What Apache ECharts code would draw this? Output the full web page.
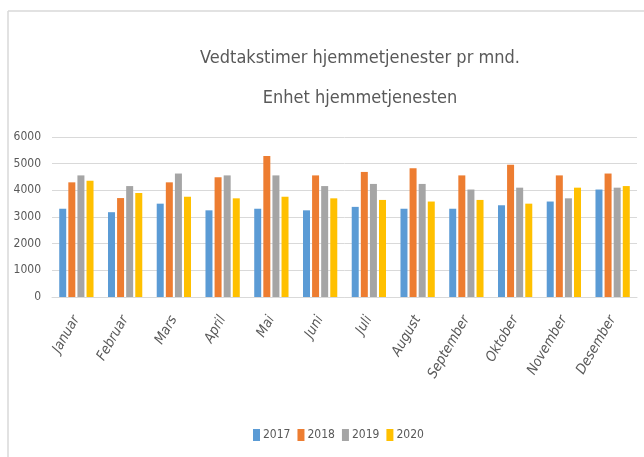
<!DOCTYPE html>
<html>
<head>
<meta charset="utf-8">
<script src="https://cdn.jsdelivr.net/npm/echarts@6/dist/echarts.min.js"></script>
<style>
  html, body { margin: 0; padding: 0; background: #fff; }
  #myChart { width: 644px; height: 457px; }
</style>
</head>
<body>
<div id="myChart"></div>
<script>
// data
var months = ['Januar', 'Februar', 'Mars', 'April', 'Mai', 'Juni', 'Juli', 'August', 'September', 'Oktober', 'November', 'Desember'];
var years = ['2017', '2018', '2019', '2020'];
var v2017 = [3310, 3180, 3500, 3250, 3310, 3250, 3380, 3310, 3310, 3440, 3580, 4030];
var v2018 = [4300, 3710, 4300, 4490, 5290, 4560, 4690, 4830, 4560, 4960, 4560, 4630];
var v2019 = [4560, 4160, 4630, 4560, 4560, 4160, 4240, 4240, 4030, 4100, 3700, 4100];
var v2020 = [4360, 3900, 3760, 3700, 3760, 3700, 3640, 3580, 3640, 3500, 4100, 4160];
var yTicks = [0, 1000, 2000, 3000, 4000, 5000, 6000];

var colors = ['#5b9bd5', '#ed7d31', '#a5a5a5', '#ffc000'];
var allData = [v2017, v2018, v2019, v2020];
var font = '"DejaVu Sans Condensed", "Liberation Sans Narrow", sans-serif';

var series = [];
for (var i = 0; i < years.length; i++) {
  series.push({
    name: years[i],
    type: 'bar',
    data: allData[i],
    barWidth: 7,
    barGap: '30%',
    itemStyle: { color: colors[i] }
  });
}

var myChart = echarts.init(document.getElementById('myChart'));
var option = {
  animation: false,
  color: colors,
  title: {
    text: 'Vedtakstimer hjemmetjenester pr mnd.\nEnhet hjemmetjenesten',
    left: 355,
    top: 33,
    textAlign: 'center',
    textStyle: {
      fontFamily: font,
      fontSize: 18,
      fontWeight: 'normal',
      color: '#595959',
      lineHeight: 40
    }
  },
  legend: {
    data: years,
    left: 248,
    top: 424,
    itemWidth: 7,
    itemHeight: 12,
    itemGap: 7,
    icon: 'rect',
    textStyle: { fontFamily: font, fontSize: 12, color: '#595959', padding: [0, 0, 0, -2] }
  },
  grid: { left: 52, right: 7, top: 137, bottom: 160, containLabel: false },
  xAxis: {
    type: 'category',
    data: months,
    axisLine: { lineStyle: { color: '#d9d9d9', width: 1 } },
    axisTick: { show: false },
    axisLabel: {
      rotate: 60,
      interval: 0,
      fontFamily: font,
      fontSize: 14,
      fontStyle: 'italic',
      color: '#595959',
      margin: 20
    }
  },
  yAxis: {
    type: 'value',
    min: yTicks[0],
    max: yTicks[yTicks.length - 1],
    interval: 1000,
    axisLine: { show: false },
    axisTick: { show: false },
    splitLine: { lineStyle: { color: '#d9d9d9', width: 1 } },
    axisLabel: {
      fontFamily: font,
      fontSize: 12,
      color: '#595959',
      margin: 11,
      formatter: function (value) { return String(value); }
    }
  },
  graphic: [
    { type: 'line', shape: { x1: 8, y1: 11, x2: 644, y2: 11 }, style: { stroke: '#d9d9d9', lineWidth: 1.5 } },
    { type: 'line', shape: { x1: 8, y1: 11, x2: 8, y2: 457 }, style: { stroke: '#d9d9d9', lineWidth: 1.5 } }
  ],
  series: series
};
myChart.setOption(option);
</script>
</body>
</html>
